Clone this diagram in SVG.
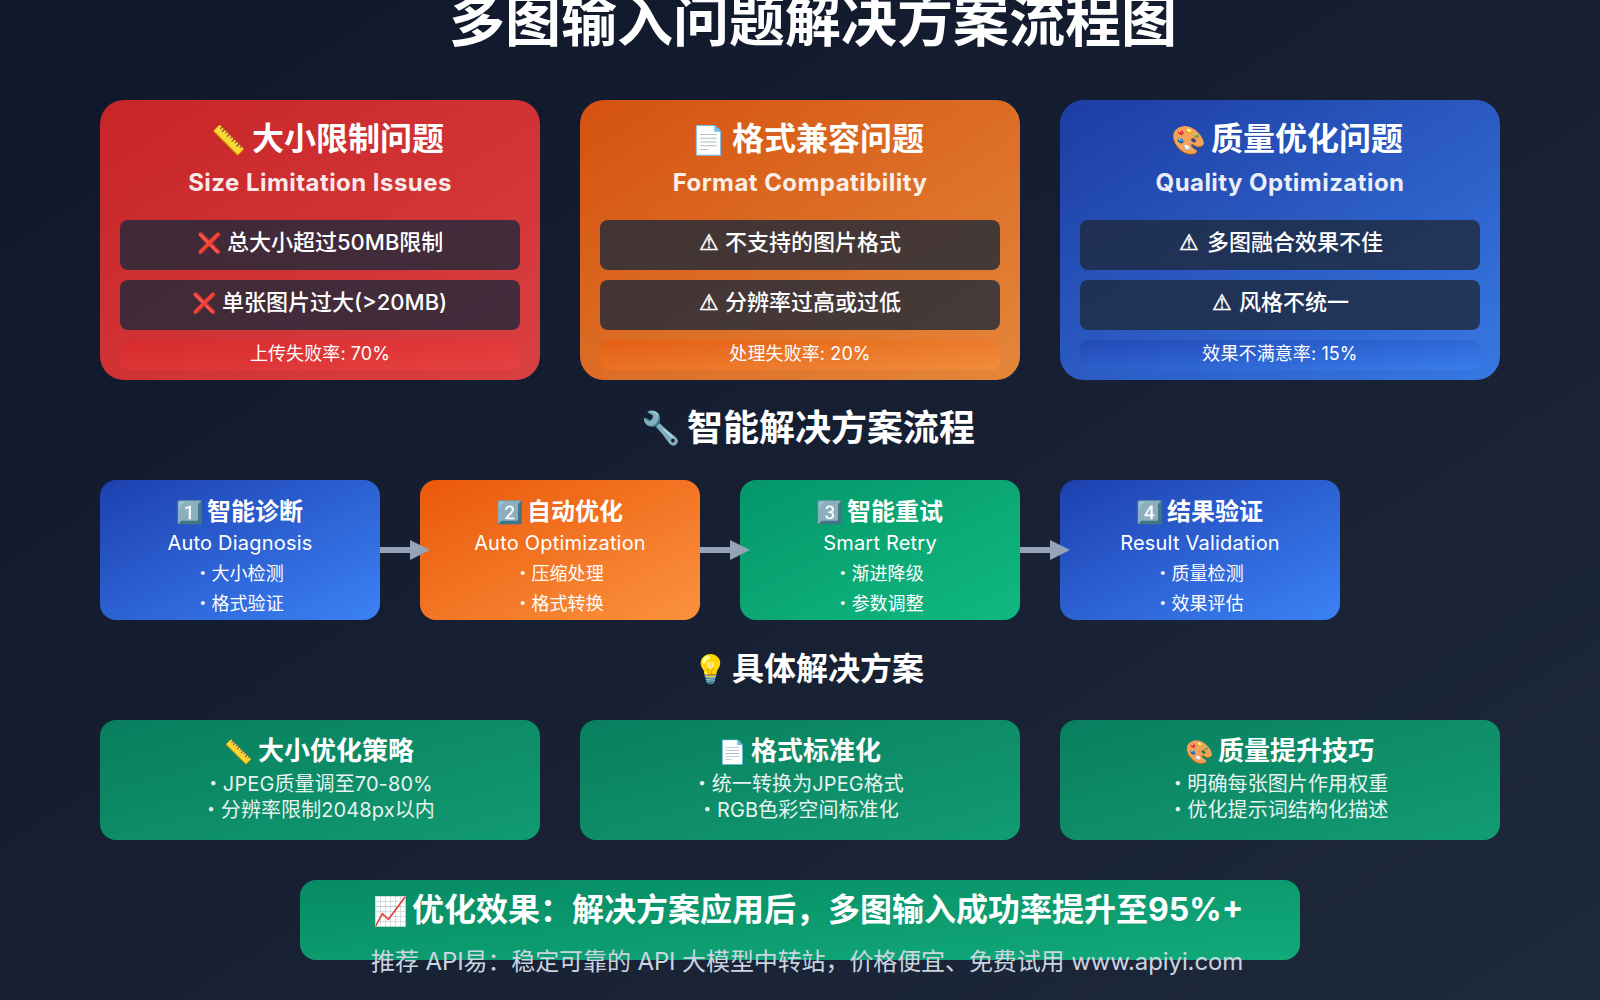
<svg xmlns="http://www.w3.org/2000/svg" width="1600" height="1000" viewBox="0 0 1600 1000">
<defs>
<linearGradient id="bg" x1="0" y1="0" x2="1" y2="1"><stop offset="0" stop-color="#0f172a"/><stop offset="1" stop-color="#1e293b"/></linearGradient>
<linearGradient id="red" x1="0" y1="0" x2="1" y2="1"><stop offset="0" stop-color="#dc2626"/><stop offset="1" stop-color="#ef4444"/></linearGradient>
<linearGradient id="orange" x1="0" y1="0" x2="1" y2="1"><stop offset="0" stop-color="#ea580c"/><stop offset="1" stop-color="#fb923c"/></linearGradient>
<linearGradient id="blue" x1="0" y1="0" x2="1" y2="1"><stop offset="0" stop-color="#1e40af"/><stop offset="1" stop-color="#3b82f6"/></linearGradient>
<linearGradient id="green" x1="0" y1="0" x2="1" y2="1"><stop offset="0" stop-color="#059669"/><stop offset="1" stop-color="#10b981"/></linearGradient>
<marker id="head" markerUnits="userSpaceOnUse" markerWidth="20" markerHeight="20" refX="10" refY="10" orient="auto"><path d="M0 0L20 10L0 20Z" fill="#94a3b8"/></marker>
</defs>
<style>
text{font-family:Inter,"Noto Sans CJK SC","Noto Color Emoji",sans-serif;fill:#fff}
.m{text-anchor:middle}
.t56{font-size:56px;font-weight:700}
.t36{font-size:36px;font-weight:700}
.t32{font-size:32px;font-weight:700}
.t26{font-size:26px;font-weight:700}
.t24b{font-size:24px;font-weight:700}
.sub{font-size:24px;font-weight:700;opacity:.9;letter-spacing:.45px}
.i22{font-size:22px;font-weight:500}
.s18{font-size:18px;letter-spacing:.1px}
.s20{font-size:20px;letter-spacing:.2px}
.e20{font-size:20px;opacity:.9;letter-spacing:.1px}
.b{font-family:"Noto Sans CJK SC",sans-serif;letter-spacing:-5.5px}
.b5{font-family:"Noto Sans CJK SC",sans-serif;letter-spacing:-6px}
.e32{font-size:32px}
.e28{font-size:28px}
.e23{font-size:23px}
.e22{font-size:22px}
.e20x{font-size:20px}
.warn{font-family:"DejaVu Sans",sans-serif;font-size:22px;stroke:#fff;stroke-width:.5}
.item{fill:#1e293b;fill-opacity:.8}
.stat{opacity:.6}
.card{opacity:.9}
.sol{opacity:.8}
.foot{font-size:24px;fill:#cbd5e1;letter-spacing:-.1px}
.conn{stroke:#94a3b8;stroke-width:6;fill:none;marker-end:url(#head)}
</style>
<rect width="1600" height="1000" fill="url(#bg)"/>
<text class="t56" x="449" y="41">多图输入问题解决方案流程图</text>

<g id="card-size">
<rect class="card" x="100" y="100" width="440" height="280" rx="24" fill="url(#red)"/>
<text class="e28" x="211" y="150">📏</text><text class="t32" x="252" y="150">大小限制问题</text>
<text class="sub m" x="320" y="190.5">Size Limitation Issues</text>
<rect class="item" x="120" y="220" width="400" height="50" rx="8"/><text class="e20x" x="197" y="250">❌</text><text class="i22" x="227" y="250">总大小超过50MB限制</text>
<rect class="item" x="120" y="280" width="400" height="50" rx="8"/><text class="e20x" x="192" y="310">❌</text><text class="i22" x="222" y="310">单张图片过大(&gt;20MB)</text>
<rect class="stat" x="120" y="340" width="400" height="30" rx="8" fill="url(#red)"/><text class="s18 m" x="320" y="360">上传失败率: 70%</text>
</g>
<g id="card-format">
<rect class="card" x="580" y="100" width="440" height="280" rx="24" fill="url(#orange)"/>
<text class="e28" x="691" y="150">📄</text><text class="t32" x="732" y="150">格式兼容问题</text>
<text class="sub m" x="800" y="190.5">Format Compatibility</text>
<rect class="item" x="600" y="220" width="400" height="50" rx="8"/><text class="warn" x="699" y="250">⚠</text><text class="i22" x="725" y="250">不支持的图片格式</text>
<rect class="item" x="600" y="280" width="400" height="50" rx="8"/><text class="warn" x="699" y="310">⚠</text><text class="i22" x="725" y="310">分辨率过高或过低</text>
<rect class="stat" x="600" y="340" width="400" height="30" rx="8" fill="url(#orange)"/><text class="s18 m" x="800" y="360">处理失败率: 20%</text>
</g>
<g id="card-quality">
<rect class="card" x="1060" y="100" width="440" height="280" rx="24" fill="url(#blue)"/>
<text class="e28" x="1171" y="150">🎨</text><text class="t32" x="1211" y="150">质量优化问题</text>
<text class="sub m" x="1280" y="190.5">Quality Optimization</text>
<rect class="item" x="1080" y="220" width="400" height="50" rx="8"/><text class="warn" x="1179" y="250">⚠</text><text class="i22" x="1207" y="250">多图融合效果不佳</text>
<rect class="item" x="1080" y="280" width="400" height="50" rx="8"/><text class="warn" x="1212" y="310">⚠</text><text class="i22" x="1239" y="310">风格不统一</text>
<rect class="stat" x="1080" y="340" width="400" height="30" rx="8" fill="url(#blue)"/><text class="s18 m" x="1280" y="360">效果不满意率: 15%</text>
</g>

<text class="e32" x="641" y="439">🔧</text><text class="t36" x="687" y="441">智能解决方案流程</text>

<g id="step-1">
<rect x="100" y="480" width="280" height="140" rx="16" fill="url(#blue)"/>
<text class="e22" x="176" y="520">1️⃣</text><text class="t24b" x="207" y="520">智能诊断</text>
<text class="s20 m" x="240" y="550">Auto Diagnosis</text>
<text class="s18 m" x="238.75" y="580"><tspan class="b">•</tspan> 大小检测</text><text class="s18 m" x="238.75" y="610"><tspan class="b">•</tspan> 格式验证</text>
</g>
<g id="step-2">
<rect x="420" y="480" width="280" height="140" rx="16" fill="url(#orange)"/>
<text class="e22" x="496" y="520">2️⃣</text><text class="t24b" x="527" y="520">自动优化</text>
<text class="s20 m" x="560" y="550">Auto Optimization</text>
<text class="s18 m" x="558.75" y="580"><tspan class="b">•</tspan> 压缩处理</text><text class="s18 m" x="558.75" y="610"><tspan class="b">•</tspan> 格式转换</text>
</g>
<g id="step-3">
<rect x="740" y="480" width="280" height="140" rx="16" fill="url(#green)"/>
<text class="e22" x="816" y="520">3️⃣</text><text class="t24b" x="847" y="520">智能重试</text>
<text class="s20 m" x="880" y="550">Smart Retry</text>
<text class="s18 m" x="878.75" y="580"><tspan class="b">•</tspan> 渐进降级</text><text class="s18 m" x="878.75" y="610"><tspan class="b">•</tspan> 参数调整</text>
</g>
<g id="step-4">
<rect x="1060" y="480" width="280" height="140" rx="16" fill="url(#blue)"/>
<text class="e22" x="1136" y="520">4️⃣</text><text class="t24b" x="1167" y="520">结果验证</text>
<text class="s20 m" x="1200" y="550">Result Validation</text>
<text class="s18 m" x="1198.75" y="580"><tspan class="b">•</tspan> 质量检测</text><text class="s18 m" x="1198.75" y="610"><tspan class="b">•</tspan> 效果评估</text>
</g>
<g id="connectors">
<path class="conn" d="M380 550H420"/>
<path class="conn" d="M700 550H740"/>
<path class="conn" d="M1020 550H1060"/>
</g>

<text class="e28" x="693" y="679">💡</text><text class="t32" x="732" y="680">具体解决方案</text>

<g id="sol-size">
<rect class="sol" x="100" y="720" width="440" height="120" rx="16" fill="url(#green)"/>
<text class="e23" x="224" y="760">📏</text><text class="t26" x="258" y="760">大小优化策略</text>
<text class="e20 m" x="318" y="791"><tspan class="b5">•</tspan> JPEG质量调至70-80%</text><text class="e20 m" x="318" y="817"><tspan class="b5">•</tspan> 分辨率限制2048px以内</text>
</g>
<g id="sol-format">
<rect class="sol" x="580" y="720" width="440" height="120" rx="16" fill="url(#green)"/>
<text class="e23" x="718" y="760">📄</text><text class="t26" x="751" y="760">格式标准化</text>
<text class="e20 m" x="798" y="791"><tspan class="b5">•</tspan> 统一转换为JPEG格式</text><text class="e20 m" x="798" y="817"><tspan class="b5">•</tspan> RGB色彩空间标准化</text>
</g>
<g id="sol-quality">
<rect class="sol" x="1060" y="720" width="440" height="120" rx="16" fill="url(#green)"/>
<text class="e23" x="1185" y="760">🎨</text><text class="t26" x="1218" y="760">质量提升技巧</text>
<text class="e20 m" x="1278" y="791"><tspan class="b5">•</tspan> 明确每张图片作用权重</text><text class="e20 m" x="1278" y="817"><tspan class="b5">•</tspan> 优化提示词结构化描述</text>
</g>

<g id="summary">
<rect x="300" y="880" width="1000" height="80" rx="16" fill="url(#green)" opacity=".9"/>
<text class="e28" x="373" y="921">📈</text><text class="t32" x="412" y="921">优化效果：解决方案应用后，多图输入成功率提升至95%+</text>
</g>
<text class="foot" x="371" y="970">推荐 API易：稳定可靠的 API 大模型中转站，价格便宜、免费试用 www.apiyi.com</text>
</svg>
